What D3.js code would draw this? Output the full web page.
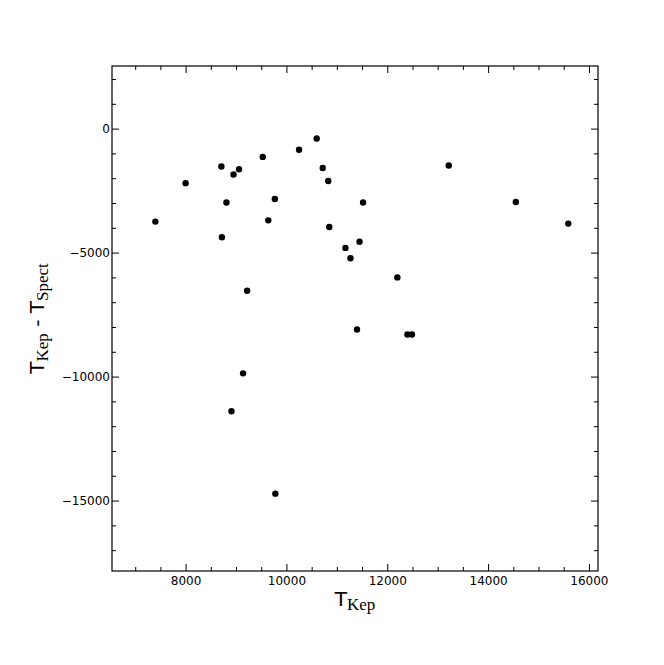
<!DOCTYPE html>
<meta charset="utf-8">
<script src="https://d3js.org/d3.v7.min.js"></script>
<style>
  body { margin: 0; background: #fff; }
  svg text { font-family: "DejaVu Sans", sans-serif; }
</style>
<body>
<div id="chart"></div>
<script>

  // T_Kep values (x) and T_Kep - T_Spect (y)
  const tKep = [7400, 8000, 8710, 9060, 8950, 9530, 10250, 10600, 10720, 10830,
                8810, 9770, 9640, 8720, 10850, 11170, 11270, 11450, 11520, 12200,
                9220, 11400, 12400, 12490, 13220, 14550, 15590, 9140, 8910, 9780];
  const tDiff = [-3750, -2200, -1530, -1640, -1850, -1140, -850, -400, -1590, -2110,
                 -2980, -2840, -3700, -4380, -3970, -4810, -5230, -4560, -2980, -6000,
                 -6540, -8100, -8300, -8300, -1490, -2960, -3830, -9870, -11400, -14720];

  const xMajor = [8000, 10000, 12000, 14000, 16000];
  const yMajor = [0, -5000, -10000, -15000];

  const margin = {top: 66, right: 66, bottom: 94, left: 112},
      width = 664 - margin.left - margin.right,
      height = 665 - margin.top - margin.bottom;

  const svg = d3.select("#chart")
    .append("svg")
      .attr("width", 664)
      .attr("height", 665)
    .append("g")
      .attr("transform", `translate(${margin.left},${margin.top})`);

  const x = d3.scaleLinear().domain([6540, 16180]).range([0, width]);
  const y = d3.scaleLinear().domain([-17840, 2525]).range([height, 0]);

  const xMinor = d3.range(7000, 16001, 500).filter(v => v % 2000 !== 0);
  const yMinor = d3.range(2000, -17001, -1000).filter(v => v % 5000 !== 0);
  const fmt = d => d3.format("d")(d).replace("-", "\u2212");

  // major ticks with labels (bottom / left), inward
  svg.append("g")
      .attr("transform", `translate(0,${height})`)
      .call(d3.axisBottom(x).tickValues(xMajor).tickFormat(fmt).tickSize(-7).tickPadding(5.5))
      .call(g => g.selectAll("text").attr("font-size", "12px").attr("fill", "#000").attr("font-family", "DejaVu Sans"));
  svg.append("g")
      .call(d3.axisLeft(y).tickValues(yMajor).tickFormat(fmt).tickSize(-7).tickPadding(2))
      .call(g => g.selectAll("text").attr("font-size", "12px").attr("fill", "#000").attr("font-family", "DejaVu Sans"));
  // mirrored major ticks, top / right
  svg.append("g")
      .call(d3.axisTop(x).tickValues(xMajor).tickFormat("").tickSize(-7));
  svg.append("g")
      .attr("transform", `translate(${width},0)`)
      .call(d3.axisRight(y).tickValues(yMajor).tickFormat("").tickSize(-7));
  // minor ticks on all sides
  svg.append("g")
      .attr("transform", `translate(0,${height})`)
      .call(d3.axisBottom(x).tickValues(xMinor).tickFormat("").tickSize(-4));
  svg.append("g")
      .call(d3.axisTop(x).tickValues(xMinor).tickFormat("").tickSize(-4));
  svg.append("g")
      .call(d3.axisLeft(y).tickValues(yMinor).tickFormat("").tickSize(-4));
  svg.append("g")
      .attr("transform", `translate(${width},0)`)
      .call(d3.axisRight(y).tickValues(yMinor).tickFormat("").tickSize(-4));

  svg.selectAll(".domain").remove();
  svg.selectAll(".tick line").attr("stroke", "#000").attr("stroke-width", 1);

  // frame
  svg.append("rect")
      .attr("width", width)
      .attr("height", height)
      .attr("fill", "none")
      .attr("stroke", "#000")
      .attr("stroke-width", 1.2);

  // points
  svg.append("g")
    .selectAll("circle")
    .data(tKep.map((d, i) => [d, tDiff[i]]))
    .join("circle")
      .attr("cx", d => x(d[0]))
      .attr("cy", d => y(d[1]))
      .attr("r", 3.2)
      .attr("fill", "#000");

  // axis labels: sans "T" with serif subscripts
  function label(sel, parts) {
    parts.forEach(p => {
      sel.append("tspan")
        .attr("font-family", p.sub ? "Liberation Serif" : "DejaVu Sans")
        .attr("font-size", p.sub ? "17px" : "20px")
        .attr("dy", p.dy)
        .text(p.t);
    });
  }

  const xl = svg.append("text")
      .attr("x", width / 2)
      .attr("y", height + 35)
      .attr("text-anchor", "middle")
      .attr("fill", "#000");
  label(xl, [{t: "T", dy: 0}, {t: "Kep", sub: true, dy: 4}]);

  const yl = svg.append("text")
      .attr("transform", `translate(${44 - margin.left},${height / 2}) rotate(-90)`)
      .attr("text-anchor", "middle")
      .attr("fill", "#000");
  label(yl, [{t: "T", dy: 0}, {t: "Kep", sub: true, dy: 4}, {t: " - ", dy: -4},
             {t: "T", dy: 0}, {t: "Spect", sub: true, dy: 4}]);

</script>
</body>
